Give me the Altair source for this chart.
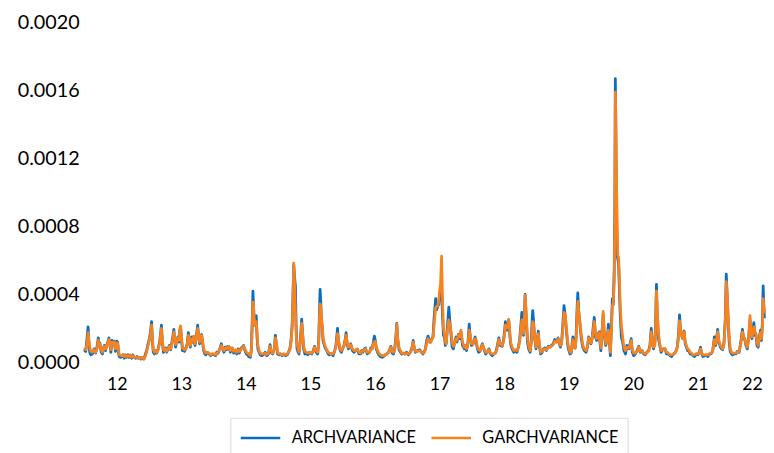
import altair as alt
import pandas as pd

SERIES = ["ARCHVARIANCE", "GARCHVARIANCE"]
COLORS = ["#0a6ebd", "#f7821e"]
Y_TICKS = [0.0, 0.0004, 0.0008, 0.0012, 0.0016, 0.0020]
X_TICKS = [12, 13, 14, 15, 16, 17, 18, 19, 20, 21, 22]

# time in years (2-digit year + fraction); variance values in units of 1e-4
YEARS_A = [
    11.495, 11.521, 11.545, 11.557, 11.57, 11.582, 11.60, 11.623, 11.65, 11.674,
    11.695, 11.715, 11.727, 11.740, 11.760, 11.78, 11.796, 11.81, 11.827, 11.845,
    11.862, 11.88, 11.893, 11.91, 11.929, 11.945, 11.964, 11.98, 11.990, 12.005,
    12.015, 12.03, 12.041, 12.06, 12.082, 12.10, 12.115, 12.133, 12.15, 12.173,
    12.19, 12.209, 12.23, 12.250, 12.27, 12.296, 12.315, 12.336, 12.36, 12.377,
    12.40, 12.423, 12.445, 12.464, 12.48, 12.500, 12.520, 12.540, 12.552, 12.566,
    12.585, 12.601, 12.62, 12.642, 12.665, 12.693, 12.705, 12.724, 12.74, 12.759,
    12.775, 12.795, 12.815, 12.836, 12.855, 12.872, 12.885, 12.900, 12.912, 12.93,
    12.948, 12.965, 12.978, 12.989, 13.005, 13.019, 13.035, 13.050, 13.07, 13.091,
    13.11, 13.126, 13.14, 13.152, 13.165, 13.177, 13.195, 13.213, 13.23, 13.254,
    13.268, 13.284, 13.30, 13.315, 13.330, 13.346, 13.365, 13.381, 13.40, 13.432,
    13.455, 13.483, 13.51, 13.534, 13.55, 13.570, 13.595, 13.621, 13.64, 13.662,
    13.68, 13.702, 13.72, 13.738, 13.76, 13.789, 13.81, 13.840, 13.86, 13.881,
    13.90, 13.916, 13.94, 13.967, 13.985, 14.008, 14.03, 14.044, 14.069, 14.085,
    14.100, 14.110, 14.120, 14.131, 14.145, 14.161, 14.175, 14.187, 14.205, 14.222,
    14.245, 14.273, 14.30, 14.324, 14.35, 14.375, 14.39, 14.416, 14.44, 14.457,
    14.475, 14.492, 14.515, 14.538, 14.56, 14.589, 14.615, 14.640, 14.66, 14.681,
    14.70, 14.717, 14.730, 14.742, 14.755, 14.768, 14.780, 14.793, 14.81, 14.824,
    14.845, 14.865, 14.880, 14.895, 14.915, 14.936, 14.960,
]
ARCH_A = [
    0.75, 0.65, 1.6, 2.1, 1.2, 0.6, 0.45, 0.5, 0.8, 0.55,
    0.9, 1.45, 1.0, 1.15, 0.6, 0.5, 0.85, 1.0, 0.7, 1.0,
    1.2, 1.45, 1.1, 0.6, 1.3, 1.15, 1.25, 0.65, 0.9, 1.25,
    1.2, 0.5, 0.35, 0.3, 0.35, 0.45, 0.25, 0.45, 0.3, 0.45,
    0.3, 0.4, 0.25, 0.45, 0.3, 0.25, 0.35, 0.25, 0.3, 0.2,
    0.3, 0.2, 0.5, 0.7, 1.0, 1.3, 1.7, 2.4, 1.4, 0.6,
    0.5, 0.7, 0.55, 0.8, 1.2, 2.2, 1.3, 0.6, 0.7, 0.85,
    0.6, 0.8, 1.0, 0.75, 1.2, 1.6, 1.95, 1.3, 0.9, 1.25,
    1.5, 1.2, 1.9, 2.1, 1.3, 0.7, 0.85, 0.65, 0.8, 1.1,
    1.75, 1.3, 0.9, 1.2, 1.5, 1.2, 1.3, 1.0, 1.45, 2.2,
    1.6, 1.1, 1.5, 1.65, 1.2, 0.7, 0.5, 0.45, 0.6, 0.5,
    0.4, 0.5, 0.45, 0.4, 0.6, 0.55, 0.8, 1.1, 0.8, 0.6,
    0.9, 0.75, 0.95, 0.95, 0.6, 0.85, 0.55, 0.7, 0.5, 0.8,
    0.55, 0.75, 0.9, 1.0, 0.7, 0.5, 0.45, 0.35, 0.3, 0.8,
    2.6, 4.2, 3.2, 2.2, 2.6, 2.75, 1.4, 0.8, 0.6, 0.45,
    0.4, 0.45, 0.6, 0.4, 0.5, 1.05, 0.6, 0.5, 0.8, 1.6,
    1.0, 0.5, 0.45, 0.5, 0.4, 0.5, 0.4, 0.45, 0.6, 0.8,
    1.3, 2.2, 3.9, 5.75, 5.0, 4.5, 2.0, 0.8, 0.6, 0.5,
    1.4, 2.55, 1.6, 0.8, 0.5, 0.55, 0.45,
]
GARCH_A = [
    0.85, 0.75, 1.2, 1.75, 1.3, 0.9, 0.65, 0.6, 0.75, 0.6,
    0.8, 1.3, 1.1, 1.1, 0.75, 0.6, 0.8, 0.95, 0.8, 0.9,
    1.15, 1.35, 1.2, 0.75, 1.2, 1.2, 1.2, 0.8, 0.85, 1.15,
    1.15, 0.65, 0.45, 0.4, 0.4, 0.45, 0.35, 0.45, 0.35, 0.4,
    0.35, 0.45, 0.3, 0.4, 0.3, 0.3, 0.3, 0.25, 0.3, 0.25,
    0.3, 0.2, 0.4, 0.6, 0.9, 1.2, 1.6, 2.2, 1.5, 0.75,
    0.6, 0.7, 0.6, 0.75, 1.1, 2.0, 1.4, 0.75, 0.7, 0.8,
    0.65, 0.75, 0.95, 0.8, 1.1, 1.45, 1.8, 1.4, 1.05, 1.2,
    1.45, 1.3, 1.95, 2.15, 1.4, 0.85, 0.85, 0.75, 0.8, 1.0,
    1.6, 1.35, 1.0, 1.15, 1.4, 1.25, 1.55, 1.1, 1.4, 2.0,
    1.65, 1.2, 1.45, 1.6, 1.25, 0.85, 0.6, 0.55, 0.6, 0.55,
    0.45, 0.5, 0.5, 0.45, 0.55, 0.6, 0.75, 1.0, 0.85, 0.7,
    0.85, 0.8, 0.9, 0.95, 0.7, 0.85, 0.65, 0.75, 0.6, 0.75,
    0.65, 0.7, 0.85, 0.95, 0.8, 0.6, 0.55, 0.5, 0.4, 0.6,
    2.2, 3.55, 3.3, 2.5, 2.2, 2.4, 1.7, 1.0, 0.7, 0.55,
    0.5, 0.5, 0.55, 0.45, 0.55, 0.95, 0.7, 0.55, 0.75, 1.45,
    1.1, 0.6, 0.5, 0.5, 0.45, 0.5, 0.45, 0.5, 0.6, 0.75,
    1.2, 2.0, 3.8, 5.85, 4.6, 3.0, 1.6, 1.1, 0.75, 0.6,
    1.2, 2.3, 1.7, 1.0, 0.65, 0.6, 0.55,
]

YEARS_B = [
    14.99, 15.02, 15.045, 15.063, 15.09, 15.114, 15.13, 15.140, 15.150, 15.160,
    15.170, 15.181, 15.195, 15.216, 15.235, 15.252, 15.275, 15.293, 15.315, 15.334,
    15.35, 15.369, 15.395, 15.420, 15.435, 15.461, 15.48, 15.497, 15.52, 15.540,
    15.553, 15.568, 15.588, 15.605, 15.624, 15.65, 15.675, 15.70, 15.726, 15.75,
    15.777, 15.795, 15.813, 15.835, 15.853, 15.88, 15.915, 15.935, 15.955, 15.975,
    15.990, 16.005, 16.020, 16.040, 16.06, 16.083, 16.11, 16.134, 16.16, 16.185,
    16.21, 16.230, 16.246, 16.265, 16.287, 16.305, 16.325, 16.338, 16.350, 16.373,
    16.395, 16.414, 16.44, 16.465, 16.49, 16.516, 16.537, 16.557, 16.575, 16.592,
    16.61, 16.628, 16.66, 16.694, 16.72, 16.745, 16.765, 16.781, 16.80, 16.822,
    16.845, 16.863, 16.880, 16.898, 16.915, 16.939, 16.955, 16.975, 16.988, 17.000,
    17.015, 17.031, 17.045, 17.060, 17.075, 17.090, 17.102, 17.120, 17.143, 17.160,
    17.179, 17.195, 17.214, 17.235, 17.255, 17.270, 17.291, 17.31, 17.331, 17.355,
    17.383, 17.40, 17.418, 17.44, 17.459, 17.475, 17.495, 17.52, 17.551, 17.568,
    17.586, 17.605, 17.627, 17.645, 17.663, 17.685, 17.714, 17.74, 17.765, 17.79,
    17.816, 17.84, 17.867, 17.89, 17.918, 17.94, 17.969, 17.99, 18.005, 18.020,
    18.035, 18.050, 18.071, 18.090, 18.105, 18.122, 18.15, 18.175, 18.198, 18.22,
    18.239, 18.255, 18.274, 18.288, 18.300, 18.312, 18.325, 18.340, 18.361, 18.38,
    18.402, 18.42, 18.435, 18.443, 18.455,
]
ARCH_B = [
    0.6, 0.5, 0.7, 0.95, 0.6, 0.5, 1.5, 3.0, 4.3, 3.6,
    2.4, 2.2, 1.3, 1.0, 0.8, 0.7, 0.5, 0.45, 0.5, 0.55,
    0.4, 0.6, 1.0, 2.0, 1.2, 0.7, 0.6, 0.8, 1.0, 1.4,
    1.75, 1.1, 0.8, 0.9, 1.1, 0.7, 0.6, 0.7, 0.8, 0.5,
    0.5, 0.7, 0.6, 0.8, 0.85, 0.5, 0.6, 0.85, 0.8, 1.2,
    1.55, 1.3, 0.8, 0.6, 0.45, 0.35, 0.3, 0.35, 0.45, 0.5,
    0.6, 0.8, 0.95, 0.55, 0.5, 0.8, 1.6, 2.3, 1.4, 0.75,
    0.6, 0.5, 0.55, 0.5, 0.6, 0.45, 0.55, 0.7, 0.9, 1.3,
    0.8, 0.6, 0.7, 0.75, 0.6, 0.5, 0.65, 0.8, 1.3, 1.55,
    1.2, 1.2, 1.4, 1.5, 2.6, 3.75, 3.1, 3.35, 3.4, 4.05,
    3.9, 4.4, 2.8, 1.6, 1.5, 1.0, 1.1, 2.0, 3.25, 2.4,
    1.6, 0.9, 0.8, 1.2, 1.5, 1.2, 1.65, 1.4, 1.8, 1.0,
    0.8, 1.0, 0.7, 1.2, 2.25, 1.5, 1.0, 1.1, 1.5, 1.2,
    0.8, 0.6, 0.65, 0.9, 1.1, 0.8, 0.5, 0.6, 0.8, 0.5,
    0.4, 0.5, 0.55, 0.9, 1.45, 1.0, 0.95, 1.3, 1.8, 2.4,
    1.9, 1.9, 2.5, 1.5, 1.0, 0.8, 0.6, 0.7, 0.6, 0.9,
    1.3, 2.0, 2.95, 2.3, 1.6, 2.7, 4.0, 2.8, 1.2, 0.8,
    0.6, 1.3, 2.6, 3.05, 2.5,
]
GARCH_B = [
    0.6, 0.55, 0.65, 0.9, 0.7, 0.6, 1.2, 2.5, 3.45, 3.3,
    2.6, 2.3, 1.5, 1.1, 0.9, 0.75, 0.6, 0.55, 0.5, 0.55,
    0.5, 0.6, 0.9, 1.7, 1.3, 0.8, 0.7, 0.8, 0.95, 1.3,
    1.6, 1.2, 0.9, 0.9, 1.05, 0.8, 0.7, 0.7, 0.8, 0.6,
    0.55, 0.65, 0.65, 0.75, 0.8, 0.6, 0.6, 0.8, 0.8, 1.1,
    1.2, 1.25, 0.9, 0.7, 0.55, 0.45, 0.4, 0.4, 0.45, 0.5,
    0.6, 0.75, 0.9, 0.65, 0.6, 0.7, 1.4, 2.25, 1.5, 0.85,
    0.7, 0.55, 0.55, 0.5, 0.55, 0.5, 0.55, 0.65, 0.85, 1.2,
    0.85, 0.65, 0.65, 0.7, 0.6, 0.55, 0.6, 0.75, 1.1, 1.4,
    1.25, 1.2, 1.35, 1.45, 2.2, 3.2, 3.3, 3.35, 3.7, 4.2,
    4.6, 6.25, 3.8, 2.0, 1.7, 1.2, 1.1, 1.8, 2.5, 2.2,
    1.8, 1.2, 0.95, 1.1, 1.4, 1.3, 1.6, 1.5, 1.9, 1.2,
    0.9, 1.0, 0.8, 1.1, 1.9, 1.6, 1.1, 1.1, 1.4, 1.3,
    0.9, 0.75, 0.7, 0.85, 1.05, 0.85, 0.6, 0.6, 0.75, 0.55,
    0.5, 0.5, 0.55, 0.8, 1.35, 1.1, 1.0, 1.2, 1.6, 2.2,
    2.0, 2.1, 2.55, 1.7, 1.1, 0.9, 0.7, 0.75, 0.7, 0.85,
    1.2, 1.8, 2.5, 2.3, 1.7, 2.6, 3.95, 3.0, 1.5, 1.0,
    0.7, 1.1, 2.0, 2.4, 2.3,
]

YEARS_C = [
    18.470, 18.494, 18.510, 18.529, 18.545, 18.565, 18.59, 18.610, 18.631, 18.655,
    18.682, 18.71, 18.733, 18.76, 18.784, 18.81, 18.835, 18.855, 18.871, 18.89,
    18.910, 18.927, 18.945, 18.963, 18.985, 19.003, 19.020, 19.039, 19.055, 19.065,
    19.080, 19.100, 19.115, 19.130, 19.141, 19.155, 19.177, 19.195, 19.218, 19.240,
    19.268, 19.29, 19.309, 19.325, 19.345, 19.365, 19.38, 19.396, 19.415, 19.432,
    19.450, 19.472, 19.488, 19.498, 19.515, 19.534, 19.550, 19.574, 19.595, 19.615,
    19.630, 19.645, 19.660, 19.676, 19.690, 19.705, 19.715, 19.722, 19.730, 19.740,
    19.750, 19.760, 19.772, 19.785, 19.798, 19.815, 19.835, 19.855, 19.880, 19.90,
    19.931, 19.950, 19.967, 19.985, 20.007, 20.03, 20.06, 20.084, 20.11, 20.135,
    20.16, 20.186, 20.21, 20.237, 20.258, 20.278, 20.295, 20.313, 20.335, 20.348,
    20.359, 20.372, 20.390, 20.410, 20.431, 20.46, 20.492, 20.515, 20.543, 20.57,
    20.594, 20.625, 20.655, 20.68, 20.700, 20.716, 20.732, 20.747, 20.765, 20.787,
    20.805, 20.823, 20.840, 20.859, 20.880, 20.900, 20.925, 20.950, 20.975, 21.001,
    21.020, 21.042, 21.060, 21.078, 21.11, 21.130, 21.154, 21.18, 21.205, 21.23,
    21.256, 21.275, 21.290, 21.307, 21.325, 21.348, 21.365, 21.384, 21.405, 21.425,
    21.440, 21.455, 21.470, 21.485, 21.501, 21.520, 21.537, 21.56, 21.588, 21.61,
    21.639, 21.665, 21.690, 21.710, 21.725, 21.745, 21.766, 21.787, 21.807, 21.822,
    21.837, 21.852, 21.868, 21.885, 21.898, 21.915, 21.934, 21.950, 21.970, 21.985,
    22.000, 22.011, 22.025, 22.031,
]
ARCH_C = [
    1.5, 0.8, 1.2, 1.85, 1.0, 0.5, 0.6, 0.8, 0.85, 0.7,
    0.95, 0.9, 1.0, 1.1, 1.35, 1.2, 1.45, 1.1, 0.9, 1.2,
    2.3, 3.35, 2.8, 1.9, 1.0, 0.7, 0.5, 0.55, 1.2, 1.5,
    0.9, 0.85, 1.6, 3.2, 4.1, 3.0, 2.1, 1.4, 0.9, 0.7,
    0.6, 0.9, 1.5, 1.3, 1.1, 1.5, 2.1, 2.65, 1.5, 1.3,
    1.6, 1.8, 1.0, 0.7, 1.8, 2.8, 1.6, 1.0, 1.3, 2.25,
    1.3, 0.4, 2.0, 3.75, 3.4, 5.5, 10.0, 16.7, 13.5, 8.5,
    6.3, 6.1, 5.8, 4.3, 2.8, 1.5, 1.2, 0.7, 0.5, 1.0,
    0.8, 1.1, 1.4, 0.6, 0.4, 0.5, 0.7, 0.95, 0.6, 0.7,
    0.5, 0.45, 0.6, 0.7, 1.0, 2.0, 1.2, 0.8, 1.2, 2.8,
    4.6, 2.6, 1.4, 1.0, 0.6, 0.8, 0.8, 0.5, 0.5, 0.4,
    0.35, 0.5, 0.6, 0.9, 1.6, 2.8, 1.9, 1.6, 1.4, 1.85,
    1.1, 0.9, 0.7, 0.7, 0.5, 0.5, 0.4, 0.35, 0.5, 0.45,
    0.6, 0.9, 0.5, 0.35, 0.4, 0.45, 0.35, 0.5, 0.5, 0.7,
    1.5, 1.0, 1.4, 1.95, 1.2, 0.9, 0.8, 0.75, 1.2, 2.6,
    5.2, 3.8, 2.4, 1.2, 0.65, 0.5, 0.45, 0.5, 0.5, 0.65,
    0.6, 1.2, 1.95, 1.4, 1.4, 1.0, 0.8, 1.5, 2.5, 1.8,
    1.4, 1.9, 2.35, 1.6, 1.7, 1.0, 0.9, 1.4, 1.9, 1.3,
    2.4, 4.5, 3.0, 2.6,
]
GARCH_C = [
    1.6, 0.9, 1.1, 1.7, 1.1, 0.6, 0.65, 0.75, 0.8, 0.75,
    0.9, 0.9, 0.95, 1.05, 1.25, 1.2, 1.4, 1.15, 1.0, 1.1,
    2.0, 2.95, 2.8, 2.1, 1.2, 0.85, 0.6, 0.6, 1.0, 1.35,
    1.0, 0.85, 1.3, 2.7, 3.6, 3.0, 2.3, 1.6, 1.05, 0.8,
    0.7, 0.9, 1.45, 1.3, 1.15, 1.4, 1.9, 2.4, 1.7, 1.4,
    1.5, 1.75, 1.2, 0.85, 1.6, 3.0, 1.9, 1.1, 1.2, 1.9,
    1.5, 0.6, 1.8, 3.3, 3.5, 4.8, 8.5, 15.9, 14.5, 10.5,
    8.5, 6.3, 6.2, 5.0, 3.35, 2.2, 1.5, 0.9, 0.7, 0.9,
    0.85, 1.0, 1.3, 0.75, 0.55, 0.55, 0.65, 0.9, 0.65, 0.7,
    0.55, 0.5, 0.6, 0.65, 0.9, 1.8, 1.3, 0.9, 1.0, 2.5,
    4.2, 3.0, 1.7, 1.1, 0.7, 0.75, 0.8, 0.6, 0.55, 0.45,
    0.45, 0.5, 0.6, 0.85, 1.4, 2.45, 2.0, 1.6, 1.4, 1.8,
    1.2, 1.0, 0.8, 0.75, 0.6, 0.55, 0.45, 0.45, 0.5, 0.5,
    0.55, 0.8, 0.55, 0.45, 0.45, 0.45, 0.45, 0.5, 0.55, 0.65,
    1.35, 1.1, 1.3, 1.8, 1.3, 1.0, 0.9, 0.8, 1.1, 2.3,
    4.75, 4.0, 2.6, 1.5, 0.85, 0.6, 0.55, 0.55, 0.55, 0.6,
    0.65, 1.1, 1.8, 1.5, 1.4, 1.1, 0.9, 1.4, 2.75, 2.0,
    1.5, 1.7, 2.1, 1.8, 1.7, 1.2, 1.0, 1.3, 1.75, 1.4,
    2.0, 3.75, 3.2, 2.9,
]

years = YEARS_A + YEARS_B + YEARS_C
arch = ARCH_A + ARCH_B + ARCH_C
garch = GARCH_A + GARCH_B + GARCH_C
assert len(YEARS_A) == len(ARCH_A) == len(GARCH_A), (len(YEARS_A), len(ARCH_A), len(GARCH_A))
assert len(YEARS_B) == len(ARCH_B) == len(GARCH_B), (len(YEARS_B), len(ARCH_B), len(GARCH_B))
assert len(YEARS_C) == len(ARCH_C) == len(GARCH_C), (len(YEARS_C), len(ARCH_C), len(GARCH_C))

rows = []
for t, a, g in zip(years, arch, garch):
    rows.append({"t": t, "series": SERIES[0], "v": a * 1e-4})
    rows.append({"t": t, "series": SERIES[1], "v": g * 1e-4})
df = pd.DataFrame(rows)

chart = (
    alt.Chart(df)
    .mark_line(strokeWidth=2.8, strokeJoin="round")
    .encode(
        x=alt.X(
            "t:Q",
            scale=alt.Scale(domain=[11.48, 22.04], nice=False, zero=False),
            axis=alt.Axis(
                values=X_TICKS, format="d", title=None, domain=False, ticks=False,
                grid=False, labelFontSize=18, labelPadding=13, labelFlush=5,
                labelColor="#000000",
            ),
        ),
        y=alt.Y(
            "v:Q",
            scale=alt.Scale(domain=[0, 0.002], nice=False),
            axis=alt.Axis(
                values=Y_TICKS, format=".4f", title=None, domain=False, ticks=False,
                grid=False, labelFontSize=20, labelPadding=4, labelColor="#000000",
            ),
        ),
        color=alt.Color(
            "series:N",
            scale=alt.Scale(domain=SERIES, range=COLORS),
            legend=alt.Legend(
                title=None, orient="none", legendX=149, legendY=400,
                direction="horizontal", symbolType="M-2,0H2", symbolSize=400,
                symbolOffset=10, symbolStrokeWidth=2.5, labelFontSize=16.5,
                labelColor="#000000", strokeColor="#d9d9d9", fillColor="#ffffff",
                padding=9, columnPadding=10, labelOffset=20,
            ),
        ),
    )
    .properties(
        width=690, height=344,
        padding={"left": 9, "top": 2, "right": 0, "bottom": 0},
    )
    .configure(font="Lato")
    .configure_view(stroke="transparent", strokeWidth=0)
)

chart.save("out.html", embed_options={"renderer": "svg", "actions": False})
